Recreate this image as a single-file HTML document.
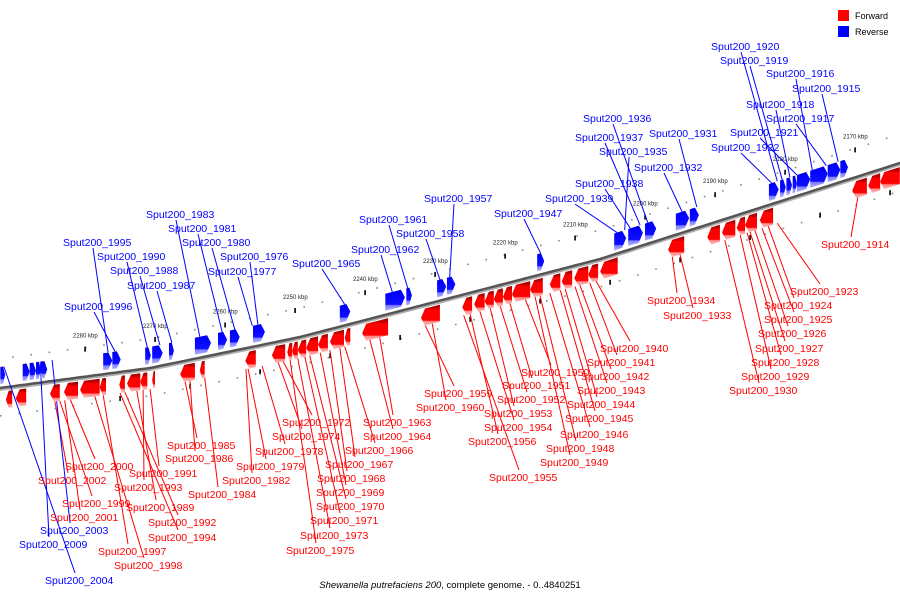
<!DOCTYPE html>
<html><head><meta charset="utf-8"><style>
html,body{margin:0;padding:0;background:#fff;width:900px;height:600px;overflow:hidden}
svg text{font-family:"Liberation Sans","DejaVu Sans",sans-serif}
</style></head><body>
<svg id="chart" width="900" height="600" xmlns="http://www.w3.org/2000/svg">
<defs>
<linearGradient id="gb" x1="0" y1="0" x2="0" y2="1"><stop offset="0" stop-color="#0000c8"/><stop offset="0.15" stop-color="#0000ff"/><stop offset="0.7" stop-color="#1010ff"/><stop offset="0.75" stop-color="#8080ff"/><stop offset="1" stop-color="#b0b0ff"/></linearGradient>
<linearGradient id="gr" x1="0" y1="0" x2="0" y2="1"><stop offset="0" stop-color="#900"/><stop offset="0.2" stop-color="#c00"/><stop offset="0.25" stop-color="#f00"/><stop offset="0.75" stop-color="#f00"/><stop offset="0.8" stop-color="#f88"/><stop offset="1" stop-color="#fbb"/></linearGradient>
</defs>
<g id="grid"></g>
<g id="axis"></g>
<g id="lines"></g>
<g id="genes"></g>
<g id="labels"></g>
<g>
<rect x="838" y="10" width="11" height="11" fill="#f00"/>
<text x="855" y="19" font-size="9" fill="#000">Forward</text>
<rect x="838" y="26" width="11" height="11" fill="#00f"/>
<text x="855" y="35" font-size="9" fill="#000">Reverse</text>
</g>
<text x="450" y="588" font-size="9.5" text-anchor="middle" fill="#000"><tspan font-style="italic">Shewanella putrefaciens 200</tspan>, complete genome. - 0..4840251</text>
</svg>
<script>
// axis layout (kbp decreases to the right)
const tickKbp = [2170,2180,2190,2200,2210,2220,2230,2240,2250,2260,2270,2280];
// genes: [leftKbp, rightKbp]
const reverseGenes = [[2292.1,2291.4],[2288.9,2287.9],[2287.9,2287.0],[2287.0,2286.3],[2286.3,2285.4],
[2277.4,2276.1],[2276.1,2274.9],[2271.4,2270.6],[2270.4,2268.9],[2268.0,2267.3],
[2264.3,2262.0],[2261.0,2259.7],[2259.3,2257.9],[2256.0,2254.3],[2243.6,2242.1],
[2237.1,2234.3],[2234.1,2233.3],[2229.7,2228.4],[2228.3,2227.1],[2215.4,2214.4],
[2204.4,2202.7],[2202.4,2200.3],[2200.0,2198.4],[2195.6,2193.7],[2193.6,2192.3],
[2182.3,2180.9],[2180.7,2179.9],[2179.8,2179.0],[2178.9,2178.3],[2178.3,2176.4],[2176.4,2173.9],[2173.9,2172.1],[2172.1,2171.0]];
const forwardGenes = [[2291.3,2290.4],[2289.9,2288.4],[2285.0,2283.6],[2283.0,2281.0],[2280.7,2277.9],[2277.9,2277.0],
[2275.1,2274.3],[2274.0,2272.1],[2272.1,2271.1],[2270.4,2270.0],[2266.4,2264.3],[2263.6,2262.9],[2257.1,2255.6],
[2253.3,2251.4],[2251.1,2250.4],[2250.4,2249.6],[2249.6,2248.4],[2248.4,2246.7],[2246.7,2245.3],[2245.0,2243.0],[2242.9,2242.1],
[2240.4,2236.7],[2232.0,2229.3],[2226.1,2224.7],[2224.4,2222.9],[2222.9,2221.6],[2221.6,2220.3],[2220.3,2219.0],[2219.0,2216.4],[2216.4,2214.6],
[2213.6,2212.1],[2211.9,2210.4],[2210.1,2208.1],[2208.1,2206.7],[2206.4,2203.9],[2196.7,2194.4],
[2191.1,2189.3],[2189.0,2187.1],[2186.9,2185.7],[2185.7,2184.0],[2183.6,2181.7],[2170.4,2168.3],[2168.1,2166.4],[2166.4,2163.6]];
// labels: [name, strand(1=fwd,0=rev), gene kbp]
const labelNames = ["Sput200_1920","Sput200_1919","Sput200_1916","Sput200_1915","Sput200_1918","Sput200_1917","Sput200_1921","Sput200_1922","Sput200_1936","Sput200_1937","Sput200_1931","Sput200_1935","Sput200_1932","Sput200_1938","Sput200_1939","Sput200_1957","Sput200_1947","Sput200_1961","Sput200_1958","Sput200_1962","Sput200_1965","Sput200_1983","Sput200_1981","Sput200_1980","Sput200_1976","Sput200_1977","Sput200_1995","Sput200_1990","Sput200_1988","Sput200_1987","Sput200_1996","Sput200_2009","Sput200_2004",
"Sput200_1914","Sput200_1923","Sput200_1924","Sput200_1925","Sput200_1926","Sput200_1927","Sput200_1928","Sput200_1929","Sput200_1930","Sput200_1934","Sput200_1933","Sput200_1940","Sput200_1941","Sput200_1942","Sput200_1943","Sput200_1944","Sput200_1945","Sput200_1946","Sput200_1948","Sput200_1949","Sput200_1950","Sput200_1951","Sput200_1952","Sput200_1953","Sput200_1954","Sput200_1956","Sput200_1955","Sput200_1959","Sput200_1960","Sput200_1963","Sput200_1964","Sput200_1966","Sput200_1967","Sput200_1968","Sput200_1969","Sput200_1970","Sput200_1971","Sput200_1973","Sput200_1975","Sput200_1972","Sput200_1974","Sput200_1978","Sput200_1979","Sput200_1982","Sput200_1984","Sput200_1985","Sput200_1986","Sput200_1991","Sput200_1993","Sput200_1989","Sput200_1992","Sput200_1994","Sput200_1997","Sput200_1998","Sput200_2000","Sput200_2002","Sput200_1999","Sput200_2001","Sput200_2003"];
const labelGeneKbp = [2181.1,2180.4,2176.1,2172.4,2179.3,2174.1,2178.3,2181.9,2199.6,2200.7,2192.6,2202.9,2194.7,2202.1,2204.0,2227.9,2214.9,2233.9,2229.3,2236.1,2242.9,2263.6,2260.4,2258.6,2255.3,2256.1,2276.7,2271.1,2269.3,2267.6,2275.7,2286.4,2291.6,
2169.6,2181.1,2182.4,2183.3,2184.3,2185,2185.4,2186.4,2188.6,2196.1,2195,2207,2207.9,2209.3,2210,2211.4,2212.1,2213.6,2215,2215.7,2217.1,2219.3,2220.7,2222.1,2223.6,2225,2225.9,2231.4,2230.4,2237.9,2239.3,2242.9,2243.6,2245,2246.4,2247.9,2248.6,2249.6,2250.7,2251.7,2252.4,2254.7,2256.7,2257,2262.9,2265.7,2265,2270.7,2271.7,2272.6,2274.3,2275,2277.4,2278.6,2282.1,2284.3,2283.6,2282.9,2284.7];
const labelStrand = [0,0,0,0,0,0,0,0,0,0,0,0,0,0,0,0,0,0,0,0,0,0,0,0,0,0,0,0,0,0,0,0,0,
1,1,1,1,1,1,1,1,1,1,1,1,1,1,1,1,1,1,1,1,1,1,1,1,1,1,1,1,1,1,1,1,1,1,1,1,1,1,1,1,1,1,1,1,1,1,1,1,1,1,1,1,1,1,1,1,1,1];
// label text placement (layout)
const labelPos = [[711,46],[720,60],[766,73],[792,88],[746,104],[766,118],[730,132],[711,147],[583,118],[575,137],[649,133],[599,151],[634,167],[575,183],[545,198],[424,198],[494,213],[359,219],[396,233],[351,249],[292,263],[146,214],[168,228],[182,242],[220,256],[208,271],[63,242],[97,256],[110,270],[127,285],[64,306],[19,544],[45,580],
[821,244],[790,291],[764,305],[764,319],[758,333],[755,348],[751,362],[741,376],[729,390],[647,300],[663,315],[600,348],[587,362],[581,376],[577,390],[567,404],[565,418],[560,434],[546,448],[540,462],[521,372],[502,385],[497,399],[484,413],[484,427],[468,441],[489,477],[424,393],[416,407],[363,422],[363,436],[345,450],[325,464],[317,478],[316,492],[316,506],[310,520],[300,535],[286,550],[282,422],[272,436],[255,451],[236,466],[222,480],[188,494],[167,445],[165,458],[129,473],[114,487],[126,507],[148,522],[148,537],[98,551],[114,565],[65,466],[38,480],[62,503],[50,517],[40,530]];

const NS="http://www.w3.org/2000/svg";
const X0=855, S=7;
function xScale(k){return X0-(k-2170)*S;}
const AP=[[0,388],[150,368],[300,337],[600,259],[900,163]];
function axisY(x){
  if(x<=AP[0][0]) return AP[0][1]+(x-AP[0][0])*(AP[1][1]-AP[0][1])/(AP[1][0]-AP[0][0]);
  for(let i=0;i<AP.length-1;i++){const a=AP[i],b=AP[i+1];if(x<=b[0]) return a[1]+(x-a[0])*(b[1]-a[1])/(b[0]-a[0]);}
  const a=AP[AP.length-2],b=AP[AP.length-1];return b[1]+(x-b[0])*(b[1]-a[1])/(b[0]-a[0]);
}
function mk(tag,attrs,parent){const e=document.createElementNS(NS,tag);for(const k in attrs)e.setAttribute(k,attrs[k]);parent.appendChild(e);return e;}
const gAxis=document.getElementById('axis'),gGrid=document.getElementById('grid'),gGenes=document.getElementById('genes'),gLines=document.getElementById('lines'),gLab=document.getElementById('labels');

// axis line
let pts=[];for(let x=-5;x<=905;x+=5)pts.push(x+','+axisY(x).toFixed(1));
let sh=[];for(let x=-5;x<=905;x+=5)sh.push(x+','+(axisY(x)+2).toFixed(1));
let p1=mk('polyline',{points:sh.join(' '),fill:'none',stroke:'#b0b0b0','stroke-width':2},gAxis);


let p2=mk('polyline',{points:pts.join(' '),fill:'none',stroke:'#555','stroke-width':2.5},gAxis);



// dots
for(let k=2163;k<=2295;k+=2.6){
  const x=xScale(k);
  const d1=mk('rect',{x:x,y:axisY(x)-30,width:1.6,height:1.6,fill:'#888'},gGrid);
  
  
  const x2=x+6;
  const d2=mk('rect',{x:x2,y:axisY(x2)+27,width:1.6,height:1.6,fill:'#888'},gGrid);
  
  
}
// ticks
tickKbp.forEach(k=>{
  const x=xScale(k),y=axisY(x);
  const t=mk('rect',{x:x-0.7,y:y-30,width:1.6,height:5,fill:'#000'},gAxis);
  
  
  const x2=xScale(k-5);
  const t2=mk('rect',{x:x2-0.7,y:axisY(x2)+24,width:1.6,height:5,fill:'#000'},gAxis);
  
  
  const tl=mk('text',{x:x-12,y:y-39,'font-size':6,fill:'#222'},gAxis);
  tl.textContent=k+' kbp';
  
  
});
// genes
function gene(g,fwd){
  const xa=xScale(g[0]),xb=xScale(g[1]);
  const o1=fwd?4:-21,o2=fwd?21:-4;
  const h=Math.min(4,(xb-xa)*0.45);
  let p;
  if(!fwd){p=[[xa,axisY(xa)+o1],[xb-h,axisY(xb-h)+o1],[xb,axisY(xb)+(o1+o2)/2],[xb-h,axisY(xb-h)+o2],[xa,axisY(xa)+o2]];}
  else{p=[[xa,axisY(xa)+(o1+o2)/2],[xa+h,axisY(xa+h)+o1],[xb,axisY(xb)+o1],[xb,axisY(xb)+o2],[xa+h,axisY(xa+h)+o2]];}
  const e=mk('polygon',{points:p.map(q=>q[0].toFixed(1)+','+q[1].toFixed(1)).join(' '),fill:fwd?'url(#gr)':'url(#gb)'},gGenes);
  
  
}
reverseGenes.forEach(g=>gene(g,false));
forwardGenes.forEach(g=>gene(g,true));
// labels
labelNames.forEach((n,i)=>{
  const fwd=labelStrand[i]===1,col=fwd?'#f00':'#00f';
  const lx=labelPos[i][0],ly=labelPos[i][1];
  const gx=xScale(labelGeneKbp[i]);
  const ay=axisY(gx);
  const below=ly>ay;
  const gy=fwd?ay+21:ay-21;
  const sx=lx+30, sy=below?ly-7:ly+6;
  const l=mk('line',{x1:sx,y1:sy,x2:gx,y2:gy,stroke:col,'stroke-width':1},gLines);
  
  
  const t=mk('text',{x:lx,y:ly+4,'font-size':10.5,fill:col},gLab);
  t.textContent=n;
  
  
});
</script>
</body></html>
